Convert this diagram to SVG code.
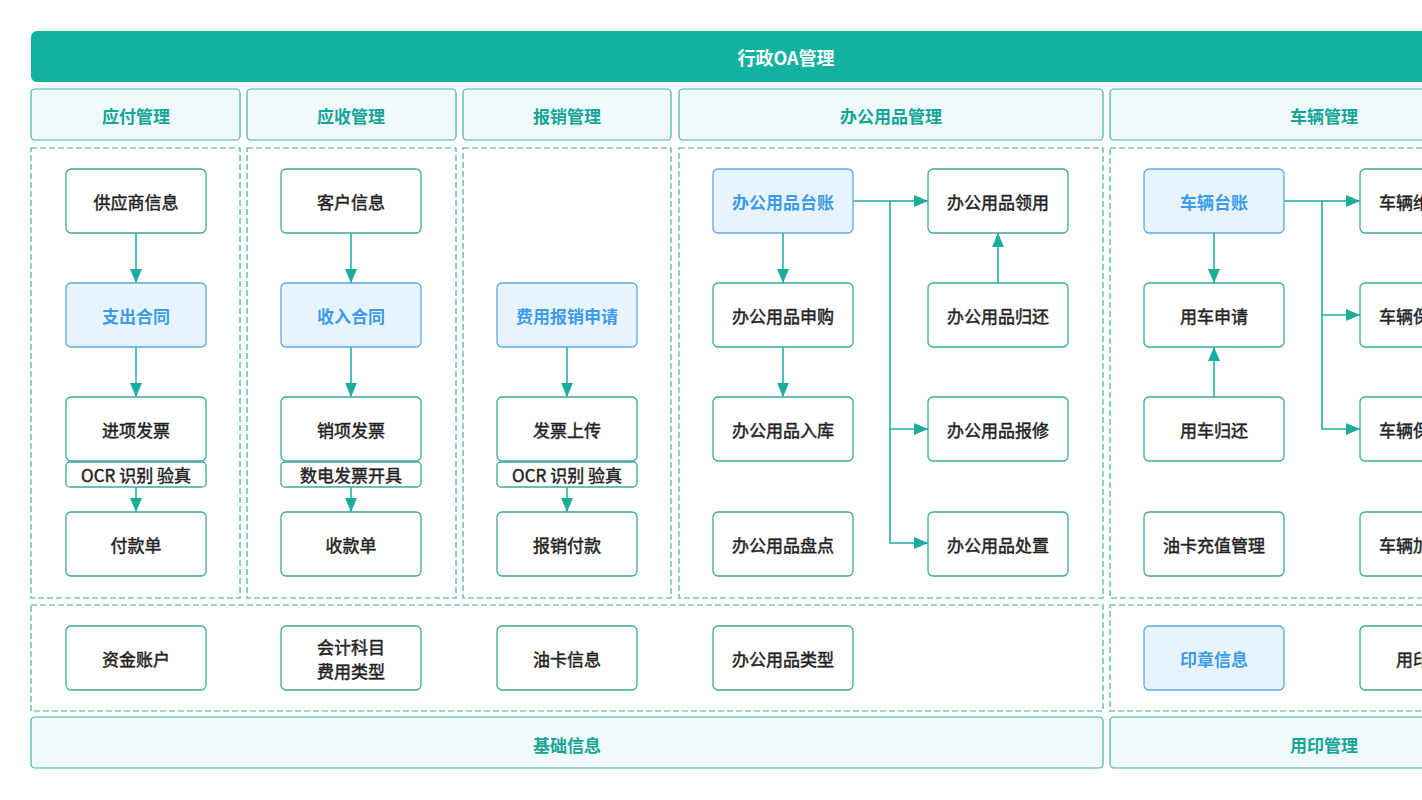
<svg xmlns="http://www.w3.org/2000/svg" width="1422" height="800" viewBox="0 0 1422 800">
<style>
text{font-family:"Noto Sans CJK SC","Noto Sans",sans-serif;text-anchor:middle;dominant-baseline:central}
.hdr{fill:#f0f9fb;stroke:#3fb3a5;stroke-width:1.2}
.hdrt{fill:#13a597;font-size:17px;font-weight:bold}
.dash{fill:none;stroke:#3aaea0;stroke-width:1.2;stroke-dasharray:6 3}
.n{fill:#fff;stroke:#3aa99d;stroke-width:1.3}
.nt{fill:#222;font-size:17px;font-weight:normal;stroke:#222;stroke-width:0.45}
.h{fill:#e8f4fd;stroke:#5ba8e8;stroke-width:1.3}
.ht{fill:#3d9be9;font-size:17px;font-weight:bold}
.c{fill:none;stroke:#1aad9c;stroke-width:1.5}
</style>
<defs>
<marker id="ar" markerUnits="userSpaceOnUse" markerWidth="14" markerHeight="12" refX="14" refY="6" orient="auto">
<path d="M0,0 L14,6 L0,12 z" fill="#1aad9c"/>
</marker>
</defs>
<rect width="1422" height="800" fill="#fff"/>

<g id="title">
<rect x="31" y="31" width="1520" height="51" rx="6" fill="#13b1a0"/>
<text x="786" y="57" fill="#fff" font-size="18" font-weight="bold">行政OA管理</text>
</g>

<g id="headers">
<rect class="hdr" x="31" y="89" width="209" height="51" rx="4"/>
<text class="hdrt" x="136" y="115">应付管理</text>
<rect class="hdr" x="247" y="89" width="209" height="51" rx="4"/>
<text class="hdrt" x="351" y="115">应收管理</text>
<rect class="hdr" x="463" y="89" width="208" height="51" rx="4"/>
<text class="hdrt" x="567" y="115">报销管理</text>
<rect class="hdr" x="679" y="89" width="424" height="51" rx="4"/>
<text class="hdrt" x="891" y="115">办公用品管理</text>
<rect class="hdr" x="1110" y="89" width="440" height="51" rx="4"/>
<text class="hdrt" x="1324" y="115">车辆管理</text>
</g>

<g id="containers">
<rect class="dash" x="31" y="148" width="209" height="450"/>
<rect class="dash" x="247" y="148" width="209" height="450"/>
<rect class="dash" x="463" y="148" width="208" height="450"/>
<rect class="dash" x="679" y="148" width="424" height="450"/>
<rect class="dash" x="1110" y="148" width="440" height="450"/>
<rect class="dash" x="31" y="605" width="1072" height="106"/>
<rect class="dash" x="1110" y="605" width="440" height="106"/>
</g>

<g id="footers">
<rect class="hdr" x="31" y="717" width="1072" height="51" rx="4"/>
<text class="hdrt" x="567" y="744">基础信息</text>
<rect class="hdr" x="1110" y="717" width="440" height="51" rx="4"/>
<text class="hdrt" x="1324" y="744">用印管理</text>
</g>

<g id="connectors">
<path class="c" d="M136,233 V283" marker-end="url(#ar)"/>
<path class="c" d="M136,347 V397" marker-end="url(#ar)"/>
<path class="c" d="M136,487 V512" marker-end="url(#ar)"/>
<path class="c" d="M351,233 V283" marker-end="url(#ar)"/>
<path class="c" d="M351,347 V397" marker-end="url(#ar)"/>
<path class="c" d="M351,487 V512" marker-end="url(#ar)"/>
<path class="c" d="M567,347 V397" marker-end="url(#ar)"/>
<path class="c" d="M567,487 V512" marker-end="url(#ar)"/>
<path class="c" d="M783,233 V283" marker-end="url(#ar)"/>
<path class="c" d="M783,347 V397" marker-end="url(#ar)"/>
<path class="c" d="M853,201 H928" marker-end="url(#ar)"/>
<path class="c" d="M890,201 V543 H928" marker-end="url(#ar)"/>
<path class="c" d="M890,429 H928" marker-end="url(#ar)"/>
<path class="c" d="M998,283 V233" marker-end="url(#ar)"/>
<path class="c" d="M1214,233 V283" marker-end="url(#ar)"/>
<path class="c" d="M1214,397 V347" marker-end="url(#ar)"/>
<path class="c" d="M1284,201 H1360" marker-end="url(#ar)"/>
<path class="c" d="M1322,201 V429 H1360" marker-end="url(#ar)"/>
<path class="c" d="M1322,315 H1360" marker-end="url(#ar)"/>
</g>

<g id="n-gysxx"><rect class="n" x="66" y="169" width="140" height="64" rx="5"/><text class="nt" x="136" y="201">供应商信息</text></g>
<g id="n-zchr"><rect class="h" x="66" y="283" width="140" height="64" rx="5"/><text class="ht" x="136" y="315">支出合同</text></g>
<g id="n-jxfp"><rect class="n" x="66" y="397" width="140" height="64" rx="5"/><text class="nt" x="136" y="429">进项发票</text>
<rect class="n" x="66" y="462" width="140" height="25" rx="4"/><text class="nt" x="136" y="474.5">OCR 识别 验真</text></g>
<g id="n-fkd"><rect class="n" x="66" y="512" width="140" height="64" rx="5"/><text class="nt" x="136" y="544">付款单</text></g>

<g id="n-khxx"><rect class="n" x="281" y="169" width="140" height="64" rx="5"/><text class="nt" x="351" y="201">客户信息</text></g>
<g id="n-srht"><rect class="h" x="281" y="283" width="140" height="64" rx="5"/><text class="ht" x="351" y="315">收入合同</text></g>
<g id="n-xxfp"><rect class="n" x="281" y="397" width="140" height="64" rx="5"/><text class="nt" x="351" y="429">销项发票</text>
<rect class="n" x="281" y="462" width="140" height="25" rx="4"/><text class="nt" x="351" y="474.5">数电发票开具</text></g>
<g id="n-skd"><rect class="n" x="281" y="512" width="140" height="64" rx="5"/><text class="nt" x="351" y="544">收款单</text></g>

<g id="n-fybxsq"><rect class="h" x="497" y="283" width="140" height="64" rx="5"/><text class="ht" x="567" y="315">费用报销申请</text></g>
<g id="n-fpsc"><rect class="n" x="497" y="397" width="140" height="64" rx="5"/><text class="nt" x="567" y="429">发票上传</text>
<rect class="n" x="497" y="462" width="140" height="25" rx="4"/><text class="nt" x="567" y="474.5">OCR 识别 验真</text></g>
<g id="n-bxfk"><rect class="n" x="497" y="512" width="140" height="64" rx="5"/><text class="nt" x="567" y="544">报销付款</text></g>

<g id="n-bgtz"><rect class="h" x="713" y="169" width="140" height="64" rx="5"/><text class="ht" x="783" y="201">办公用品台账</text></g>
<g id="n-bgsg"><rect class="n" x="713" y="283" width="140" height="64" rx="5"/><text class="nt" x="783" y="315">办公用品申购</text></g>
<g id="n-bgrk"><rect class="n" x="713" y="397" width="140" height="64" rx="5"/><text class="nt" x="783" y="429">办公用品入库</text></g>
<g id="n-bgpd"><rect class="n" x="713" y="512" width="140" height="64" rx="5"/><text class="nt" x="783" y="544">办公用品盘点</text></g>
<g id="n-bgly"><rect class="n" x="928" y="169" width="140" height="64" rx="5"/><text class="nt" x="998" y="201">办公用品领用</text></g>
<g id="n-bggh"><rect class="n" x="928" y="283" width="140" height="64" rx="5"/><text class="nt" x="998" y="315">办公用品归还</text></g>
<g id="n-bgbx"><rect class="n" x="928" y="397" width="140" height="64" rx="5"/><text class="nt" x="998" y="429">办公用品报修</text></g>
<g id="n-bgcz"><rect class="n" x="928" y="512" width="140" height="64" rx="5"/><text class="nt" x="998" y="544">办公用品处置</text></g>

<g id="n-cltz"><rect class="h" x="1144" y="169" width="140" height="64" rx="5"/><text class="ht" x="1214" y="201">车辆台账</text></g>
<g id="n-ycsq"><rect class="n" x="1144" y="283" width="140" height="64" rx="5"/><text class="nt" x="1214" y="315">用车申请</text></g>
<g id="n-ycgh"><rect class="n" x="1144" y="397" width="140" height="64" rx="5"/><text class="nt" x="1214" y="429">用车归还</text></g>
<g id="n-ykcz"><rect class="n" x="1144" y="512" width="140" height="64" rx="5"/><text class="nt" x="1214" y="544">油卡充值管理</text></g>
<g id="n-clwx"><rect class="n" x="1360" y="169" width="140" height="64" rx="5"/><text class="nt" x="1430" y="201">车辆维修保养</text></g>
<g id="n-clbx"><rect class="n" x="1360" y="283" width="140" height="64" rx="5"/><text class="nt" x="1430" y="315">车辆保险管理</text></g>
<g id="n-clby"><rect class="n" x="1360" y="397" width="140" height="64" rx="5"/><text class="nt" x="1430" y="429">车辆保养记录</text></g>
<g id="n-cljy"><rect class="n" x="1360" y="512" width="140" height="64" rx="5"/><text class="nt" x="1430" y="544">车辆加油管理</text></g>

<g id="n-zjzh"><rect class="n" x="66" y="626" width="140" height="64" rx="5"/><text class="nt" x="136" y="658">资金账户</text></g>
<g id="n-kjkm"><rect class="n" x="281" y="626" width="140" height="64" rx="5"/><text class="nt" x="351" y="646.5">会计科目</text><text class="nt" x="351" y="670">费用类型</text></g>
<g id="n-ykxx"><rect class="n" x="497" y="626" width="140" height="64" rx="5"/><text class="nt" x="567" y="658">油卡信息</text></g>
<g id="n-bglx"><rect class="n" x="713" y="626" width="140" height="64" rx="5"/><text class="nt" x="783" y="658">办公用品类型</text></g>
<g id="n-yzxx"><rect class="h" x="1144" y="626" width="140" height="64" rx="5"/><text class="ht" x="1214" y="658">印章信息</text></g>
<g id="n-yysq"><rect class="n" x="1360" y="626" width="140" height="64" rx="5"/><text class="nt" x="1430" y="658">用印申请</text></g>
</svg>
